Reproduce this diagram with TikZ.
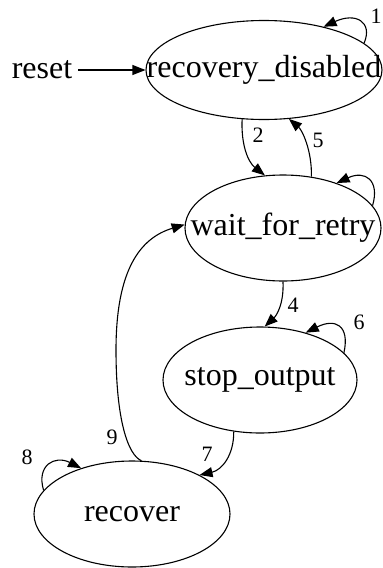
\documentclass[tikz,border=0pt]{standalone}
\usepackage{fontspec}
\setmainfont{Liberation Serif}
\usetikzlibrary{arrows.meta, shapes.geometric}

\begin{document}
\begin{tikzpicture}[
  x=1pt, y=-1pt,
  >={Triangle[length=13pt, width=10pt]},
  arr/.style={->, line width=1.1pt},
]

% =============================================
% Styles
% =============================================
\tikzset{
  statebox/.style 2 args={
    draw, ellipse, line width=1.1pt,
    inner xsep=-40pt, inner ysep=0pt,
    minimum width=#1, minimum height=#2,
    font=\fontsize{32}{36}\selectfont,
  },
  num/.style={font=\fontsize{22}{24}\selectfont, inner sep=0pt},
}

\useasboundingbox (0,0) rectangle (383,568);

% =============================================
% States
% =============================================
\node[statebox={236pt}{99pt}] (rdis) at (264,70) {recovery\_disabled};
\node[statebox={196pt}{106pt}] (wait) at (283,228) {wait\_for\_retry};
\node[statebox={194pt}{106pt}] (stop) at (260,380) {stop\_output};
\node[statebox={196pt}{106pt}] (recov) at (132,514) {recover};

\node[font=\fontsize{32}{36}\selectfont, inner sep=6pt] (reset) at (42,70) {reset};

% =============================================
% Transitions
% =============================================
\draw[arr] (reset) -- (rdis.180);

\draw[arr] (rdis.15) .. controls (373,22) and (356,12) .. (rdis.36)
  node[num] at (376,16) {1};

\draw[arr] (rdis.246) .. controls (241,145) and (248,162) .. (wait.109)
  node[num] at (258,135) {2};

\draw[arr] (wait.61) .. controls (312,150) and (302,130) .. (rdis.297)
  node[num] at (318,140) {5};

\draw[arr] (wait.14) .. controls (380,180) and (365,170) .. (wait.40);

\draw[arr] (wait.270) .. controls (284,305) and (276,316) .. (stop.85)
  node[num] at (293,305) {4};

\draw[arr] (stop.18) .. controls (350,325) and (335,318) .. (stop.46)
  node[num] at (359,322) {6};

\draw[arr] (stop.243) .. controls (234,455) and (222,470) .. (recov.30)
  node[num] at (207,454) {7};

\draw[arr] (recov.165) .. controls (36,465) and (55,455) .. (recov.138)
  node[num] at (27,457) {8};

\draw[arr] (recov.80) .. controls (128,455) and (116,420) .. (116,350)
  .. controls (116,270) and (140,238) .. (wait.178)
  node[num] at (112,437) {9};

\end{tikzpicture}
\end{document}
